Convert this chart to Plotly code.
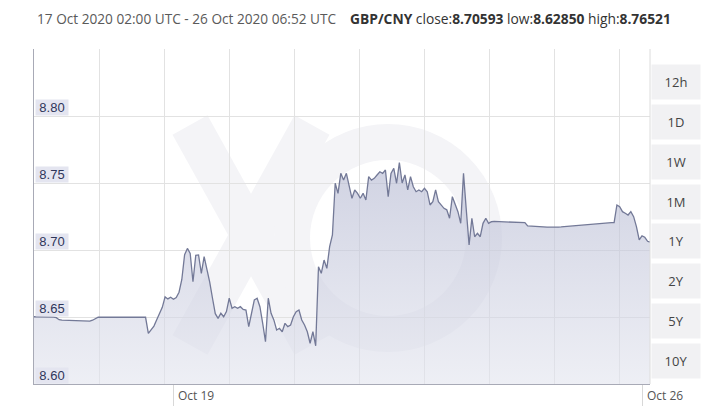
import pandas as pd
import plotly.graph_objects as go

# ---------------- data ----------------
RANGE_TEXT = "17 Oct 2020 02:00 UTC - 26 Oct 2020 06:52 UTC"
PAIR = "GBP/CNY"
CLOSE_TXT, LOW_TXT, HIGH_TXT = "8.70593", "8.62850", "8.76521"
START = "2020-10-17 02:00"
END = "2020-10-26 06:52"
CLOSE_VALUE = 8.70593

# hourly GBP/CNY rate starting at START
rate = [
    8.6502, 8.6502, 8.6502, 8.6502, 8.6501, 8.6500, 8.6500, 8.6499, 8.6495,
    8.6480, 8.6476, 8.6475, 8.6474, 8.6475, 8.6474, 8.6473, 8.6474, 8.6473, 8.6472, 8.6472, 8.6469,
    8.6476, 8.6490, 8.6498, 8.6498,
    8.6498, 8.6499, 8.6499, 8.6498, 8.6498, 8.6499, 8.6499, 8.6498, 8.6498, 8.6498, 8.6499, 8.6498,
    8.6498, 8.6498, 8.6497, 8.6498,
    8.6378, 8.6410, 8.6432, 8.6480, 8.6532, 8.6572, 8.6650, 8.6635, 8.6648, 8.6632, 8.6645, 8.6685,
    8.6780, 8.6965, 8.7012, 8.6975,
    8.6763, 8.6960, 8.6963, 8.6826, 8.6950, 8.6863, 8.6760, 8.6640, 8.6525, 8.6490, 8.6528, 8.6502, 8.6540,
    8.6640, 8.6565, 8.6577, 8.6565, 8.6577, 8.6557, 8.6552, 8.6428, 8.6528, 8.6627, 8.6640, 8.6577, 8.6453,
    8.6316, 8.6640, 8.6528, 8.6478, 8.6403, 8.6416, 8.6390, 8.6453, 8.6428, 8.6440, 8.6502, 8.6540,
    8.6552, 8.6478, 8.6440, 8.6390, 8.6304, 8.6390, 8.6285,
    8.6875, 8.6826, 8.6925, 8.6863, 8.7025, 8.7112, 8.7498, 8.7423, 8.7572, 8.7522, 8.7572, 8.7472,
    8.7386, 8.7448, 8.7423, 8.7386, 8.7423, 8.7373, 8.7547, 8.7522, 8.7535, 8.7560, 8.7584, 8.7572,
    8.7597, 8.7398, 8.7572, 8.7610, 8.7498, 8.7652,
    8.7500, 8.7560, 8.7448, 8.7547, 8.7472, 8.7435, 8.7448, 8.7435, 8.7460, 8.7435, 8.7336, 8.7361,
    8.7448, 8.7361, 8.7336, 8.7311, 8.7300, 8.7237, 8.7398, 8.7336, 8.7286, 8.7199, 8.7572, 8.7299,
    8.7037, 8.7237, 8.7099, 8.7125, 8.7099, 8.7199, 8.7237, 8.7199, 8.7211, 8.7213,
    8.7212, 8.7213, 8.7212, 8.7210, 8.7210, 8.7209, 8.7208, 8.7207, 8.7206, 8.7205, 8.7204,
    8.7180, 8.7178, 8.7176, 8.7175, 8.7174, 8.7173, 8.7172, 8.7171, 8.7170, 8.7169,
    8.7170, 8.7171, 8.7172, 8.7174, 8.7175, 8.7177, 8.7179, 8.7181, 8.7183, 8.7186, 8.7187,
    8.7189, 8.7191, 8.7193, 8.7194, 8.7196, 8.7198, 8.7200, 8.7201, 8.7203, 8.7204,
    8.7204, 8.7336, 8.7323, 8.7286, 8.7274, 8.7261, 8.7286, 8.7249, 8.7174, 8.7075, 8.7105, 8.7095, 8.7065,
]

y_ticks = [8.60, 8.65, 8.70, 8.75, 8.80]
y_tick_labels = ["8.60", "8.65", "8.70", "8.75", "8.80"]
x_tick_dates = ["2020-10-19 04:00", "2020-10-26 04:00"]
x_tick_labels = ["Oct 19", "Oct 26"]
range_buttons = ["12h", "1D", "1W", "1M", "1Y", "2Y", "5Y", "10Y"]

# ---------------- layout geometry (pixels) ----------------
W, H = 715, 410
ML, MR, MT, MB = 34, 65, 49, 26
PW, PH = W - ML - MR, H - MT - MB
Y_RANGE = [8.60, 8.85]


def px(xp):
    return (xp - ML) / PW


def py(yp):
    return (H - MB - yp) / PH


times = pd.date_range(START, periods=len(rate), freq="h").append(pd.DatetimeIndex([pd.Timestamp(END)]))
values = rate + [CLOSE_VALUE]

t0, t1 = pd.Timestamp(START), pd.Timestamp(END)
grid_step = 65.0
grid_times = []
k = 1
while k * grid_step < PW:
    grid_times.append(t0 + (t1 - t0) * (k * grid_step / PW))
    k += 1

fig = go.Figure()

fig.add_trace(go.Scatter(
    x=times, y=values, mode="lines",
    line=dict(color="#737997", width=1.3),
    fill="tozeroy",
    fillgradient=dict(type="vertical",
                      colorscale=[[0, "rgba(226,228,238,0.6)"], [1, "rgba(178,182,208,0.62)"]],
                      start=8.60, stop=8.77),
    hoverinfo="skip", showlegend=False,
))

shapes = []
# watermark (XE logo, faint)
wm = "rgba(244,244,247,1)"
shapes.append(dict(type="line", xref="paper", yref="paper", layer="below",
                   x0=px(190), y0=py(125), x1=px(312), y1=py(345), line=dict(color=wm, width=40)))
shapes.append(dict(type="line", xref="paper", yref="paper", layer="below",
                   x0=px(312), y0=py(125), x1=px(190), y1=py(345), line=dict(color=wm, width=40)))
shapes.append(dict(type="circle", xref="paper", yref="paper", layer="below",
                   x0=px(292), y0=py(142), x1=px(484), y1=py(334), line=dict(color=wm, width=36)))
# right border of plot
shapes.append(dict(type="line", xref="paper", yref="paper", x0=1, x1=1, y0=0, y1=1,
                   line=dict(color="#dcdcdc", width=1)))

annotations = []
# header
annotations.append(dict(xref="paper", yref="paper", x=px(35), y=py(18), xanchor="left", yanchor="middle",
                        text=RANGE_TEXT, showarrow=False,
                        font=dict(family="Open Sans", size=13.65, color="#5a5a5a")))
annotations.append(dict(xref="paper", yref="paper", x=px(348), y=py(18), xanchor="left", yanchor="middle",
                        text=f"<b>{PAIR}</b> close:<b>{CLOSE_TXT}</b> low:<b>{LOW_TXT}</b> high:<b>{HIGH_TXT}</b>",
                        showarrow=False, font=dict(family="Open Sans", size=13.8, color="#333333")))
# y tick labels (inside, with background)
for v, lab in zip(y_ticks, y_tick_labels):
    annotations.append(dict(xref="paper", yref="y", x=0, y=v, xanchor="left", yanchor="bottom",
                            xshift=1, yshift=0, text=lab, showarrow=False,
                            bgcolor="#e4e5f0", width=32, height=15, borderpad=0,
                            font=dict(family="Liberation Sans", size=13, color="#2f365a")))
# x tick labels (right of tick)
for d, lab in zip(x_tick_dates, x_tick_labels):
    annotations.append(dict(xref="x", yref="paper", x=d, y=0, xanchor="left", yanchor="top",
                            xshift=3, yshift=-1, text=lab, showarrow=False,
                            font=dict(family="Open Sans", size=12, color="#555555")))
# range buttons
for i, b in enumerate(range_buttons):
    annotations.append(dict(xref="paper", yref="paper", x=px(676), y=py(82 + 39.85 * i),
                            xanchor="center", yanchor="middle", text=b, showarrow=False,
                            bgcolor="#f1f1f3", width=48, height=34, borderpad=0,
                            font=dict(family="Open Sans", size=13, color="#444444")))

fig.update_layout(
    width=W, height=H,
    margin=dict(l=ML, r=MR, t=MT, b=MB, autoexpand=False),
    paper_bgcolor="white", plot_bgcolor="white",
    shapes=shapes, annotations=annotations,
    xaxis=dict(type="date", range=[t0, t1], showgrid=False, zeroline=False, automargin=False,
               showline=True, linecolor="#a8aab6", linewidth=1,
               tickmode="array", tickvals=x_tick_dates, showticklabels=False,
               ticks="outside", ticklen=21, tickcolor="#d8d8d8", tickwidth=1,
               minor=dict(tickmode="array", tickvals=grid_times, showgrid=True,
                          gridcolor="#e2e2e2", gridwidth=1, ticks=""),
               fixedrange=True),
    yaxis=dict(range=Y_RANGE, tickmode="array", tickvals=y_ticks + [8.85], showticklabels=False,
               showgrid=True, gridcolor="#e2e2e2", gridwidth=1, zeroline=False, automargin=False,
               showline=True, linecolor="#a8aab6", linewidth=1, ticks="", fixedrange=True),
    hovermode=False,
)

fig.write_html("out.html", config={"displayModeBar": False},
               post_script="document.body.style.margin='0';document.body.style.overflow='hidden';")
